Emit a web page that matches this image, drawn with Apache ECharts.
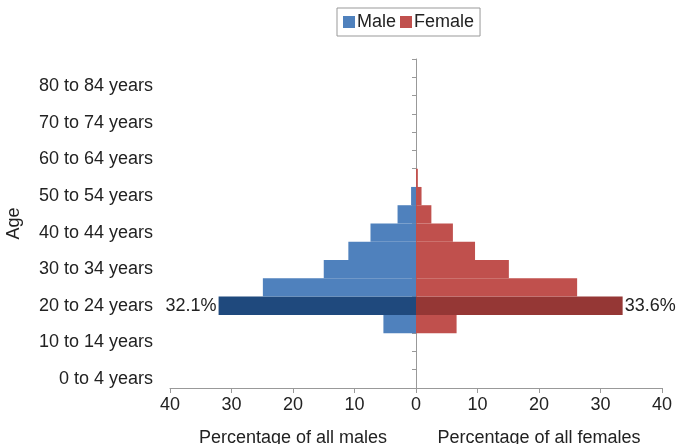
<!DOCTYPE html>
<html><head><meta charset="utf-8">
<script src="https://cdn.jsdelivr.net/npm/echarts@6/dist/echarts.min.js"></script>
<style>html,body{margin:0;padding:0;background:#fff}#c{width:679px;height:444px}</style>
</head><body><div id="c"></div>
<script>
const categories = ['0 to 4 years','5 to 9 years','10 to 14 years','15 to 19 years','20 to 24 years','25 to 29 years','30 to 34 years','35 to 39 years','40 to 44 years','45 to 49 years','50 to 54 years','55 to 59 years','60 to 64 years','65 to 69 years','70 to 74 years','75 to 79 years','80 to 84 years','85 years and over'];
const male =   [0,0,0,5.3,32.1,24.9,15.0,11.0,7.4,3.0,0.8,0,0,0,0,0,0,0];
const female = [0,0,0,6.6,33.6,26.2,15.1,9.6,6.0,2.5,0.9,0.3,0,0,0,0,0,0];
const highlightIndex = 4;

const font = 'Liberation Sans, Arial, sans-serif';
const FS = 18;
const mk = (arr, base, dark, side) => arr.map((v,i)=> i===highlightIndex ? {
  value:v, itemStyle:{color:dark},
  label:{show:true, position: side, formatter: v.toFixed(1)+'%', color:'#222', fontSize:FS, fontFamily:font, distance:2}
} : {value:v, itemStyle:{color:base}});

const chart = echarts.init(document.getElementById('c'));
chart.setOption({
  animation:false,
  legend:{top:8, left:337, itemWidth:12, itemHeight:12, itemGap:4, borderColor:'#999', borderWidth:1, padding:[5,6],
    textStyle:{fontSize:FS, fontFamily:font, color:'#222', padding:[0,0,0,-3]}, icon:'rect',
    data:['Male','Female']},
  grid:[{left:170, width:246, top:59, bottom:56, containLabel:false, outerBoundsMode:'none'},
        {left:416, width:246, top:59, bottom:56, containLabel:false, outerBoundsMode:'none'}],
  xAxis:[
    {gridIndex:0, type:'value', inverse:true, min:0, max:40, interval:10, name:'Percentage of all males', nameLocation:'middle', nameGap:41,
     nameTextStyle:{fontSize:FS, fontFamily:font, color:'#222'},
     axisLine:{show:true, lineStyle:{color:'#999'}}, axisTick:{show:true, length:5, lineStyle:{color:'#999'}},
     axisLabel:{fontSize:FS, fontFamily:font, color:'#222'}, splitLine:{show:false}},
    {gridIndex:1, type:'value', min:0, max:40, interval:10, name:'Percentage of all females', nameLocation:'middle', nameGap:41,
     nameTextStyle:{fontSize:FS, fontFamily:font, color:'#222'},
     axisLine:{show:true, lineStyle:{color:'#999'}}, axisTick:{show:true, length:5, lineStyle:{color:'#999'}},
     axisLabel:{fontSize:FS, fontFamily:font, color:'#222', formatter:v=> v===0?'':v}, splitLine:{show:false}}
  ],
  yAxis:[
    {gridIndex:0, type:'category', data:categories, name:'Age', nameLocation:'middle', nameGap:147, nameRotate:90,
     nameTextStyle:{fontSize:FS, fontFamily:font, color:'#222'},
     axisLine:{show:false}, axisTick:{show:false},
     axisLabel:{interval:1, fontSize:FS, fontFamily:font, color:'#222', margin:17}},
    {gridIndex:1, type:'category', data:categories, position:'left',
     axisLine:{show:true, lineStyle:{color:'#999'}}, axisTick:{show:true, length:4, lineStyle:{color:'#999'}},
     axisLabel:{show:false}}
  ],
  series:[
    {name:'Male', type:'bar', xAxisIndex:0, yAxisIndex:0, barCategoryGap:0, itemStyle:{color:'#4f81bd'}, data:mk(male,'#4f81bd','#1f497d','left')},
    {name:'Female', type:'bar', xAxisIndex:1, yAxisIndex:1, barCategoryGap:0, itemStyle:{color:'#c0504d'}, data:mk(female,'#c0504d','#953735','right')}
  ]
});
</script></body></html>
